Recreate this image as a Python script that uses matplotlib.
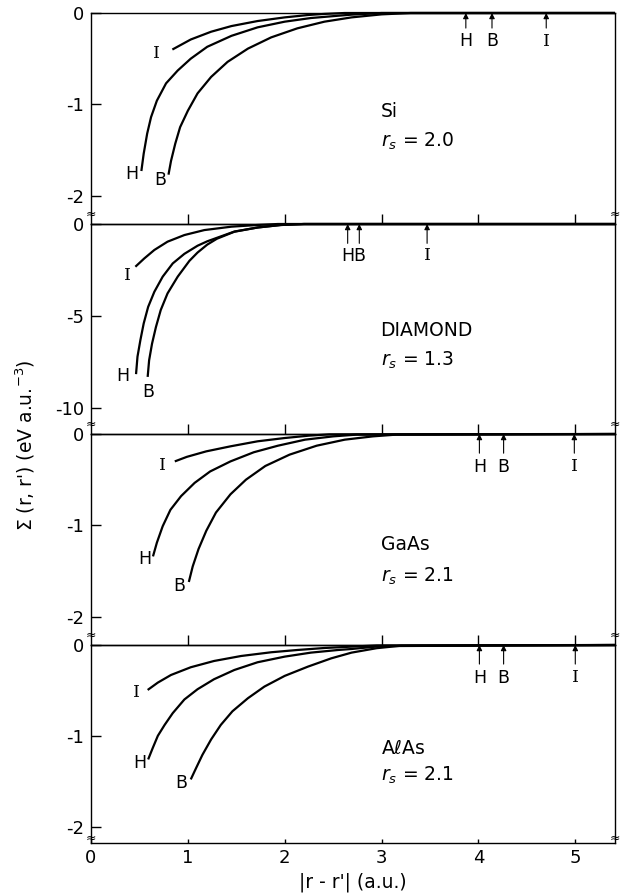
"""
    Self-energy Sigma(r, r') vs |r - r'| for four semiconductors
"""
import matplotlib.pyplot as plt

plt.rcParams['font.family'] = ['DejaVu Sans']
plt.rcParams['axes.unicode_minus'] = False

X_END = 5.41

# --- Si, rs = 2.0 ---
SI_I_X = [0.84, 1.03, 1.24, 1.45, 1.72, 2.0, 2.24, 2.41, 2.62, X_END]
SI_I_Y = [-0.40, -0.29, -0.205, -0.143, -0.088, -0.048, -0.022, -0.01, 0.0, 0.0]
SI_H_X = [0.52, 0.544, 0.58, 0.62, 0.68, 0.775, 0.895, 1.03, 1.2, 1.45, 1.72, 2.0,
          2.27, 2.55, 2.69, 3.0, X_END]
SI_H_Y = [-1.73, -1.54, -1.32, -1.14, -0.96, -0.77, -0.63, -0.50, -0.37, -0.25,
          -0.157, -0.095, -0.055, -0.03, -0.018, 0.0, 0.0]
SI_B_X = [0.80, 0.826, 0.87, 0.92, 1.0, 1.10, 1.24, 1.41, 1.62, 1.86, 2.13, 2.41,
          2.69, 3.0, 3.3, X_END]
SI_B_Y = [-1.77, -1.62, -1.43, -1.25, -1.07, -0.88, -0.70, -0.535, -0.39, -0.267,
          -0.168, -0.095, -0.048, -0.015, 0.0, 0.0]

# --- Diamond, rs = 1.3 ---
DI_I_X = [0.458, 0.55, 0.654, 0.79, 0.964, 1.17, 1.45, 1.72, 1.93, X_END]
DI_I_Y = [-2.32, -1.87, -1.41, -0.96, -0.60, -0.33, -0.145, -0.054, 0.0, 0.0]
DI_H_X = [0.465, 0.48, 0.51, 0.544, 0.59, 0.654, 0.74, 0.844, 0.964, 1.10, 1.2,
          1.3, 1.48, 1.72, 1.96, 2.2, X_END]
DI_H_Y = [-8.15, -7.2, -6.3, -5.4, -4.5, -3.68, -2.86, -2.14, -1.62, -1.18, -0.94,
          -0.75, -0.41, -0.19, -0.054, 0.0, 0.0]
DI_B_X = [0.585, 0.60, 0.63, 0.67, 0.72, 0.79, 0.895, 1.016, 1.10, 1.2, 1.3, 1.48,
          1.72, 1.96, 2.2, X_END]
DI_B_Y = [-8.3, -7.4, -6.5, -5.6, -4.67, -3.77, -2.86, -2.0, -1.55, -1.12, -0.8,
          -0.42, -0.19, -0.054, 0.0, 0.0]

# --- GaAs, rs = 2.1 ---
GA_I_X = [0.865, 0.99, 1.19, 1.44, 1.72, 2.0, 2.25, 2.46, X_END]
GA_I_Y = [-0.30, -0.25, -0.19, -0.135, -0.08, -0.044, -0.018, -0.004, 0.0]
GA_H_X = [0.64, 0.68, 0.74, 0.82, 0.93, 1.07, 1.23, 1.44, 1.68, 1.93, 2.21, 2.5,
          2.74, X_END]
GA_H_Y = [-1.34, -1.19, -1.01, -0.83, -0.68, -0.535, -0.41, -0.30, -0.20, -0.128,
          -0.062, -0.026, -0.007, 0.0]
GA_B_X = [1.01, 1.05, 1.11, 1.19, 1.29, 1.44, 1.60, 1.80, 2.05, 2.33, 2.62, 2.91,
          3.15, X_END]
GA_B_Y = [-1.62, -1.45, -1.26, -1.06, -0.86, -0.66, -0.50, -0.35, -0.226, -0.128,
          -0.062, -0.026, -0.007, 0.0]

# --- AlAs, rs = 2.1 ---
AL_I_X = [0.585, 0.69, 0.826, 1.03, 1.27, 1.55, 1.86, 2.13, 2.41, 2.69, 2.95, X_END]
AL_I_Y = [-0.495, -0.414, -0.33, -0.245, -0.176, -0.121, -0.08, -0.055, -0.033,
          -0.018, -0.005, 0.0]
AL_H_X = [0.59, 0.637, 0.69, 0.76, 0.844, 0.964, 1.10, 1.27, 1.48, 1.72, 2.0,
          2.27, 2.55, 2.69, 3.0, X_END]
AL_H_Y = [-1.26, -1.135, -1.0, -0.88, -0.75, -0.60, -0.487, -0.377, -0.275, -0.19,
          -0.128, -0.084, -0.055, -0.044, -0.012, 0.0]
AL_B_X = [1.03, 1.085, 1.15, 1.24, 1.34, 1.46, 1.62, 1.79, 2.0, 2.24, 2.48, 2.69,
          2.95, 3.2, X_END]
AL_B_Y = [-1.48, -1.355, -1.21, -1.04, -0.88, -0.73, -0.586, -0.458, -0.34, -0.238,
          -0.147, -0.084, -0.035, -0.008, 0.0]

# arrow positions (H, B, I)
SI_ARROWS = [3.87, 4.14, 4.70]
DI_ARROWS = [2.65, 2.77, 3.47]
GA_ARROWS = [4.01, 4.26, 4.99]
AL_ARROWS = [4.01, 4.26, 5.0]

# curve-end labels: (x, y) for I, H, B
SI_LABELS = [(0.68, -0.44), (0.42, -1.76), (0.72, -1.83)]
DI_LABELS = [(0.38, -2.8), (0.33, -8.25), (0.59, -9.1)]
GA_LABELS = [(0.74, -0.34), (0.56, -1.37), (0.91, -1.66)]
AL_LABELS = [(0.47, -0.52), (0.50, -1.30), (0.93, -1.52)]

NAMES = ['Si', 'DIAMOND', 'GaAs', 'A$\\ell$As']
RS = ['2.0', '1.3', '2.1', '2.1']
YTICKS = [[0, -1, -2], [0, -5, -10], [0, -1, -2], [0, -1, -2]]
YLIMS = [(-2.31, 0), (-11.4, 0), (-2.31, 0), (-2.18, 0)]

# figure-pixel layout of the stacked panels (top, bottom)
PANEL_PX = [(13, 224), (224, 434), (434, 645), (645, 843)]
W, H = 620, 894

fig = plt.figure(figsize=(W / 100, H / 100), dpi=100)

curves = [
    [(SI_I_X, SI_I_Y), (SI_H_X, SI_H_Y), (SI_B_X, SI_B_Y)],
    [(DI_I_X, DI_I_Y), (DI_H_X, DI_H_Y), (DI_B_X, DI_B_Y)],
    [(GA_I_X, GA_I_Y), (GA_H_X, GA_H_Y), (GA_B_X, GA_B_Y)],
    [(AL_I_X, AL_I_Y), (AL_H_X, AL_H_Y), (AL_B_X, AL_B_Y)],
]
arrows = [SI_ARROWS, DI_ARROWS, GA_ARROWS, AL_ARROWS]
labels = [SI_LABELS, DI_LABELS, GA_LABELS, AL_LABELS]
name_ys = [-1.08, -5.77, -1.21, -1.14]
rs_ys = [-1.41, -7.4, -1.56, -1.43]

axes = []
for k in range(4):
    top, bot = PANEL_PX[k]
    ax = fig.add_axes([91 / W, 1 - bot / H, (615 - 91) / W, (bot - top) / H])
    ax.set_facecolor('none')
    ax.set_zorder(k + 1)
    axes.append(ax)
    ax.set_xlim(0, X_END)
    ax.set_ylim(*YLIMS[k])

    for sp in ax.spines.values():
        sp.set_linewidth(1.0)
    if k < 3:
        ax.spines['bottom'].set_visible(False)

    for xs, ys in curves[k]:
        ax.plot(xs, ys, color='black', lw=1.6, clip_on=False,
                solid_capstyle='butt', solid_joinstyle='round')

    # curve labels
    for name, (lx, ly) in zip(['I', 'H', 'B'], labels[k]):
        fam = 'DejaVu Serif' if name == 'I' else 'DejaVu Sans'
        ax.text(lx, ly, name, family=fam, fontsize=12.5, ha='center', va='center')

    # arrows marking the neighbour distances
    if k == 0:
        tail, lab_y = -0.165, -0.31
    elif k == 1:
        tail, lab_y = -1.05, -1.72
    else:
        tail, lab_y = -0.21, -0.36
    for name, ax_x in zip(['H', 'B', 'I'], arrows[k]):
        ax.annotate('', xy=(ax_x, 0), xytext=(ax_x, tail),
                    arrowprops=dict(arrowstyle='-|>', color='black', lw=0.8,
                                    mutation_scale=8, shrinkA=0, shrinkB=0))
        fam = 'DejaVu Serif' if name == 'I' else 'DejaVu Sans'
        ax.text(ax_x, lab_y, name, family=fam, fontsize=12.5, ha='center', va='center')

    # material name and rs
    ax.text(2.99, name_ys[k], NAMES[k], fontsize=13.5, ha='left', va='center')
    ax.text(2.99, rs_ys[k], '$r_s$ = ' + RS[k], fontsize=13.5, ha='left', va='center')

    # y axis
    ax.set_yticks(YTICKS[k])
    ax.set_yticklabels([str(t) for t in YTICKS[k]])
    ax.tick_params(axis='y', direction='in', length=7, width=1.0, pad=5,
                   labelsize=13, right=False)

    # x axis
    ax.set_xticks([0, 1, 2, 3, 4, 5])
    if k < 3:
        ax.tick_params(axis='x', bottom=False, top=False, labelbottom=False)
    else:
        ax.tick_params(axis='x', bottom=True, top=False, direction='in',
                       length=3, width=1.0, labelsize=13, pad=4)
    if k > 0:
        sec = ax.secondary_xaxis('top')
        sec.set_xticks([1, 2, 3, 4, 5])
        sec.set_xticklabels([])
        sec.tick_params(axis='x', direction='out', length=7, width=1.0)
        sec.spines['top'].set_linewidth(1.0)

    # break marks on both spines near the bottom
    brk = 10 / (bot - top) if k < 3 else 5 / (bot - top)
    for bx in (0, 1):
        ax.text(bx, brk, '≈', transform=ax.transAxes, fontsize=9,
                ha='center', va='center')

axes[3].set_xlabel("|r - r'| (a.u.)", fontsize=13.5, labelpad=4)
fig.text(25 / W, 1 - 445 / H, "Σ (r, r') (eV a.u.$^{-3}$)", rotation=90,
         fontsize=13.5, ha='center', va='center')

fig.savefig('out.png', dpi=100)
